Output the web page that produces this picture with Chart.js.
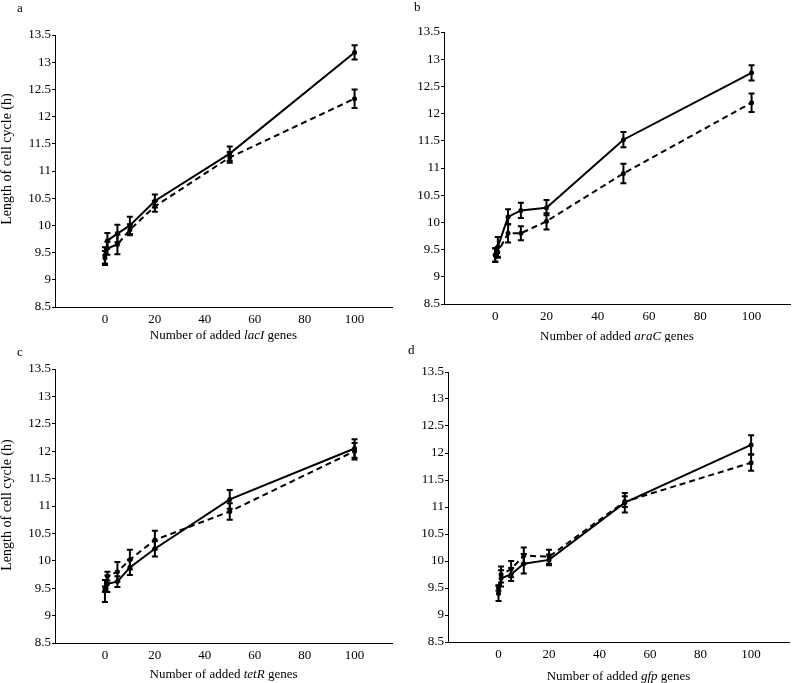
<!DOCTYPE html>
<html>
<head>
<meta charset="utf-8">
<script src="https://cdn.jsdelivr.net/npm/chart.js@4.4.1/dist/chart.umd.min.js"></script>
<style>
  body { margin: 0; background: #fff; }
  #wrap { position: relative; width: 796px; height: 683px; overflow: hidden; }
  canvas { position: absolute; }
  .lbl { position: absolute; font: 13px "Liberation Serif", serif; color: #000; line-height: 13px; }
</style>
</head>
<body>
<div id="wrap">
  <canvas id="chartA" width="398" height="342" style="left:0;top:0"></canvas>
  <canvas id="chartB" width="398" height="342" style="left:398px;top:0"></canvas>
  <canvas id="chartC" width="398" height="343" style="left:0;top:340px"></canvas>
  <canvas id="chartD" width="398" height="343" style="left:398px;top:340px"></canvas>
  <div class="lbl" style="left:17px;top:1px">a</div>
  <div class="lbl" style="left:414px;top:0px">b</div>
  <div class="lbl" style="left:17px;top:345px">c</div>
  <div class="lbl" style="left:408px;top:343px">d</div>
</div>
<script>
// x values (number of added genes) and axis ticks
const addedGenes = [0, 1, 5, 10, 20, 50, 100];
const xTickValues = [0, 20, 40, 60, 80, 100];
const yTickLabels = ['8.5', '9', '9.5', '10', '10.5', '11', '11.5', '12', '12.5', '13', '13.5'];

// a: lacI
const lacISolid = [9.4, 9.72, 9.85, 10.0, 10.45, 11.32, 13.18];
const lacISolidErr = [0.13, 0.14, 0.16, 0.16, 0.12, 0.13, 0.13];
const lacIDashed = [9.45, 9.58, 9.65, 9.92, 10.35, 11.25, 12.33];
const lacIDashedErr = [0.15, 0.12, 0.18, 0.1, 0.1, 0.1, 0.17];

// b: araC
const araCSolid = [9.4, 9.55, 10.1, 10.22, 10.27, 11.52, 12.75];
const araCSolidErr = [0.13, 0.18, 0.14, 0.14, 0.14, 0.14, 0.14];
const araCDashed = [9.4, 9.45, 9.8, 9.8, 10.02, 10.9, 12.2];
const araCDashedErr = [0.12, 0.1, 0.17, 0.13, 0.15, 0.18, 0.17];

// c: tetR
const tetRSolid = [9.45, 9.58, 9.62, 9.88, 10.22, 11.12, 12.05];
const tetRSolidErr = [0.2, 0.15, 0.1, 0.14, 0.14, 0.17, 0.17];
const tetRDashed = [9.48, 9.72, 9.8, 10.02, 10.38, 10.9, 12.0];
const tetRDashedErr = [0.05, 0.08, 0.18, 0.18, 0.17, 0.15, 0.15];

// d: gfp
const gfpSolid = [9.4, 9.68, 9.75, 9.95, 10.02, 11.08, 12.15];
const gfpSolidErr = [0.14, 0.15, 0.12, 0.18, 0.1, 0.18, 0.18];
const gfpDashed = [9.5, 9.75, 9.85, 10.1, 10.08, 11.1, 11.82];
const gfpDashedErr = [0.05, 0.15, 0.15, 0.15, 0.13, 0.1, 0.15];

const FONT = '"Liberation Serif", "Times New Roman", serif';

// draws the vertical error bars with caps
const errorBars = {
  id: 'errorBars',
  afterDatasetsDraw(chart) {
    const ctx = chart.ctx;
    const y = chart.scales.y;
    ctx.save();
    ctx.strokeStyle = '#000';
    ctx.lineWidth = 2;
    chart.data.datasets.forEach((ds, di) => {
      const meta = chart.getDatasetMeta(di);
      meta.data.forEach((pt, i) => {
        const v = ds.data[i].y;
        const e = ds.errors[i];
        const top = y.getPixelForValue(v + e);
        const bot = y.getPixelForValue(v - e);
        ctx.beginPath();
        ctx.moveTo(pt.x, top); ctx.lineTo(pt.x, bot);
        ctx.moveTo(pt.x - 3, top); ctx.lineTo(pt.x + 3, top);
        ctx.moveTo(pt.x - 3, bot); ctx.lineTo(pt.x + 3, bot);
        ctx.stroke();
      });
    });
    ctx.restore();
  }
};

// axis titles; the gene name is set in italics
const axisTitles = {
  id: 'axisTitles',
  afterDraw(chart, args, opts) {
    const ctx = chart.ctx;
    const area = chart.chartArea;
    const parts = [['Number of added ', ''], [opts.gene, 'italic '], [' genes', '']];
    ctx.save();
    ctx.fillStyle = '#000';
    ctx.textBaseline = 'middle';
    let total = 0;
    parts.forEach(p => { ctx.font = p[1] + '13px ' + FONT; total += ctx.measureText(p[0]).width; });
    let x = (area.left + area.right) / 2 - total / 2;
    const yPos = area.bottom + opts.offset;
    parts.forEach(p => {
      ctx.font = p[1] + '13px ' + FONT;
      ctx.fillText(p[0], x, yPos);
      x += ctx.measureText(p[0]).width;
    });
    if (opts.yTitleY) {
      ctx.font = '14px ' + FONT;
      ctx.textAlign = 'center';
      ctx.translate(7.5, opts.yTitleY);
      ctx.rotate(-Math.PI / 2);
      ctx.fillText('Length of cell cycle (h)', 0, 0);
    }
    ctx.restore();
  }
};

function makeChart(id, gene, solid, solidErr, dashed, dashedErr, lay) {
  const toPts = arr => addedGenes.map((x, i) => ({ x: x, y: arr[i] }));
  return new Chart(document.getElementById(id), {
    type: 'line',
    data: {
      datasets: [
        {
          data: toPts(solid), errors: solidErr,
          borderColor: '#000', backgroundColor: '#000', borderWidth: 2,
          pointRadius: 1.5, tension: 0
        },
        {
          data: toPts(dashed), errors: dashedErr,
          borderColor: '#000', backgroundColor: '#000', borderWidth: 2,
          borderDash: [6, 4], pointRadius: 1.5, tension: 0
        }
      ]
    },
    options: {
      responsive: false,
      animation: false,
      devicePixelRatio: 1,
      layout: { padding: { top: lay.padTop, right: lay.padRight, left: 0, bottom: 0 } },
      plugins: {
        legend: { display: false },
        tooltip: { enabled: false },
        axisTitles: { gene: gene, offset: lay.titleOffset, yTitleY: lay.yTitleY }
      },
      scales: {
        x: {
          type: 'linear', min: -20, max: 115,
          afterFit: s => { s.height = lay.xH; },
          border: { display: true, color: '#000', width: 1 },
          grid: { display: true, drawOnChartArea: false, drawTicks: false },
          ticks: {
            stepSize: 20, padding: 5, color: '#000',
            font: { family: FONT, size: 13 },
            callback: v => xTickValues.includes(v) ? String(v) : ''
          }
        },
        y: {
          min: 8.5, max: 13.5,
          afterFit: s => { s.width = lay.yW; },
          afterBuildTicks: s => { s.ticks = yTickLabels.map(t => ({ value: parseFloat(t) })); },
          border: { display: true, color: '#000', width: 1 },
          grid: { display: true, drawOnChartArea: false, drawTicks: true, tickLength: 3, color: '#000' },
          ticks: {
            padding: 1, color: '#000', autoSkip: false,
            font: { family: FONT, size: 13 },
            callback: v => yTickLabels.find(t => parseFloat(t) === v) || ''
          }
        }
      }
    },
    plugins: [errorBars, axisTitles]
  });
}

makeChart('chartA', 'lacI', lacISolid, lacISolidErr, lacIDashed, lacIDashedErr,
  { padTop: 35, padRight: 5, yW: 55, xH: 35, titleOffset: 29, yTitleY: 159 });
makeChart('chartB', 'araC', araCSolid, araCSolidErr, araCDashed, araCDashedErr,
  { padTop: 32, padRight: 3, yW: 46, xH: 38, titleOffset: 33, yTitleY: 0 });
makeChart('chartC', 'tetR', tetRSolid, tetRSolidErr, tetRDashed, tetRDashedErr,
  { padTop: 29, padRight: 5, yW: 55, xH: 40, titleOffset: 32, yTitleY: 165 });
makeChart('chartD', 'gfp', gfpSolid, gfpSolidErr, gfpDashed, gfpDashedErr,
  { padTop: 32, padRight: 7, yW: 50, xH: 41, titleOffset: 35, yTitleY: 0 });
</script>
</body>
</html>
